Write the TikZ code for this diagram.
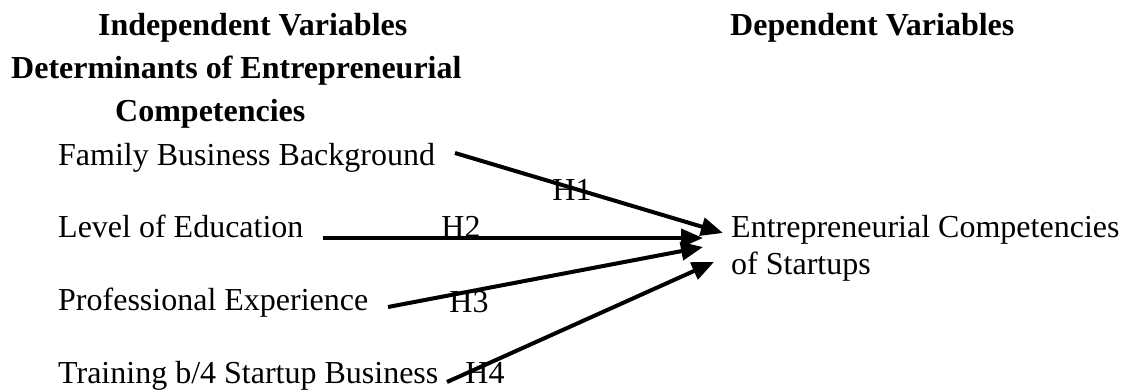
\documentclass[tikz,border=0pt]{standalone}
\usepackage{fontspec}
\setmainfont{Liberation Serif}
\usetikzlibrary{arrows.meta}
\tikzset{
  txt/.style={inner sep=0pt, anchor=base west, font=\fontsize{32}{38}\selectfont},
  ttl/.style={txt, font=\fontsize{32}{38}\selectfont\bfseries},
  hyp/.style={inner sep=0pt, anchor=base, font=\fontsize{32}{38}\selectfont},
  conn/.style={line width=4pt, -{Triangle[length=22pt,width=18pt]}}
}
\begin{document}
\begin{tikzpicture}[x=1pt,y=-1pt]
\path[use as bounding box] (0,0) rectangle (1122,390);
% titles
\node[ttl] (t1) at (98,36) {Independent Variables};
\node[ttl] (t2) at (11,79) {Determinants of Entrepreneurial};
\node[ttl] (t3) at (115,122) {Competencies};
\node[ttl] (t4) at (730,36) {Dependent Variables};
% independent variables
\node[txt] (fam) at (58,166) {Family Business Background};
\node[txt] (edu) at (58,237) {Level of Education};
\node[txt] (pro) at (58,310) {Professional Experience};
\node[txt] (tra) at (58,383) {Training b/4 Startup Business};
% dependent variable
\node[txt] (dep1) at (731,238) {Entrepreneurial Competencies};
\node[txt] (dep2) at (731,275) {of Startups};
% connector ends
\coordinate (s1) at (455,153);
\coordinate (e1) at (723,233);
\coordinate (s2) at (323,238);
\coordinate (e2) at (703,238);
\coordinate (s3) at (388,307);
\coordinate (e3) at (703,247);
\coordinate (s4) at (447,382);
\coordinate (e4) at (714,262);
\draw[conn] (s1) -- (e1);
\draw[conn] (s2) -- (e2);
\draw[conn] (s3) -- (e3);
\draw[conn] (s4) -- (e4);
% hypothesis labels
\node[hyp] (h1) at (572,201) {H1};
\node[hyp] (h2) at (461,237) {H2};
\node[hyp] (h3) at (469,312) {H3};
\node[hyp] (h4) at (485,383) {H4};
\end{tikzpicture}
\end{document}
